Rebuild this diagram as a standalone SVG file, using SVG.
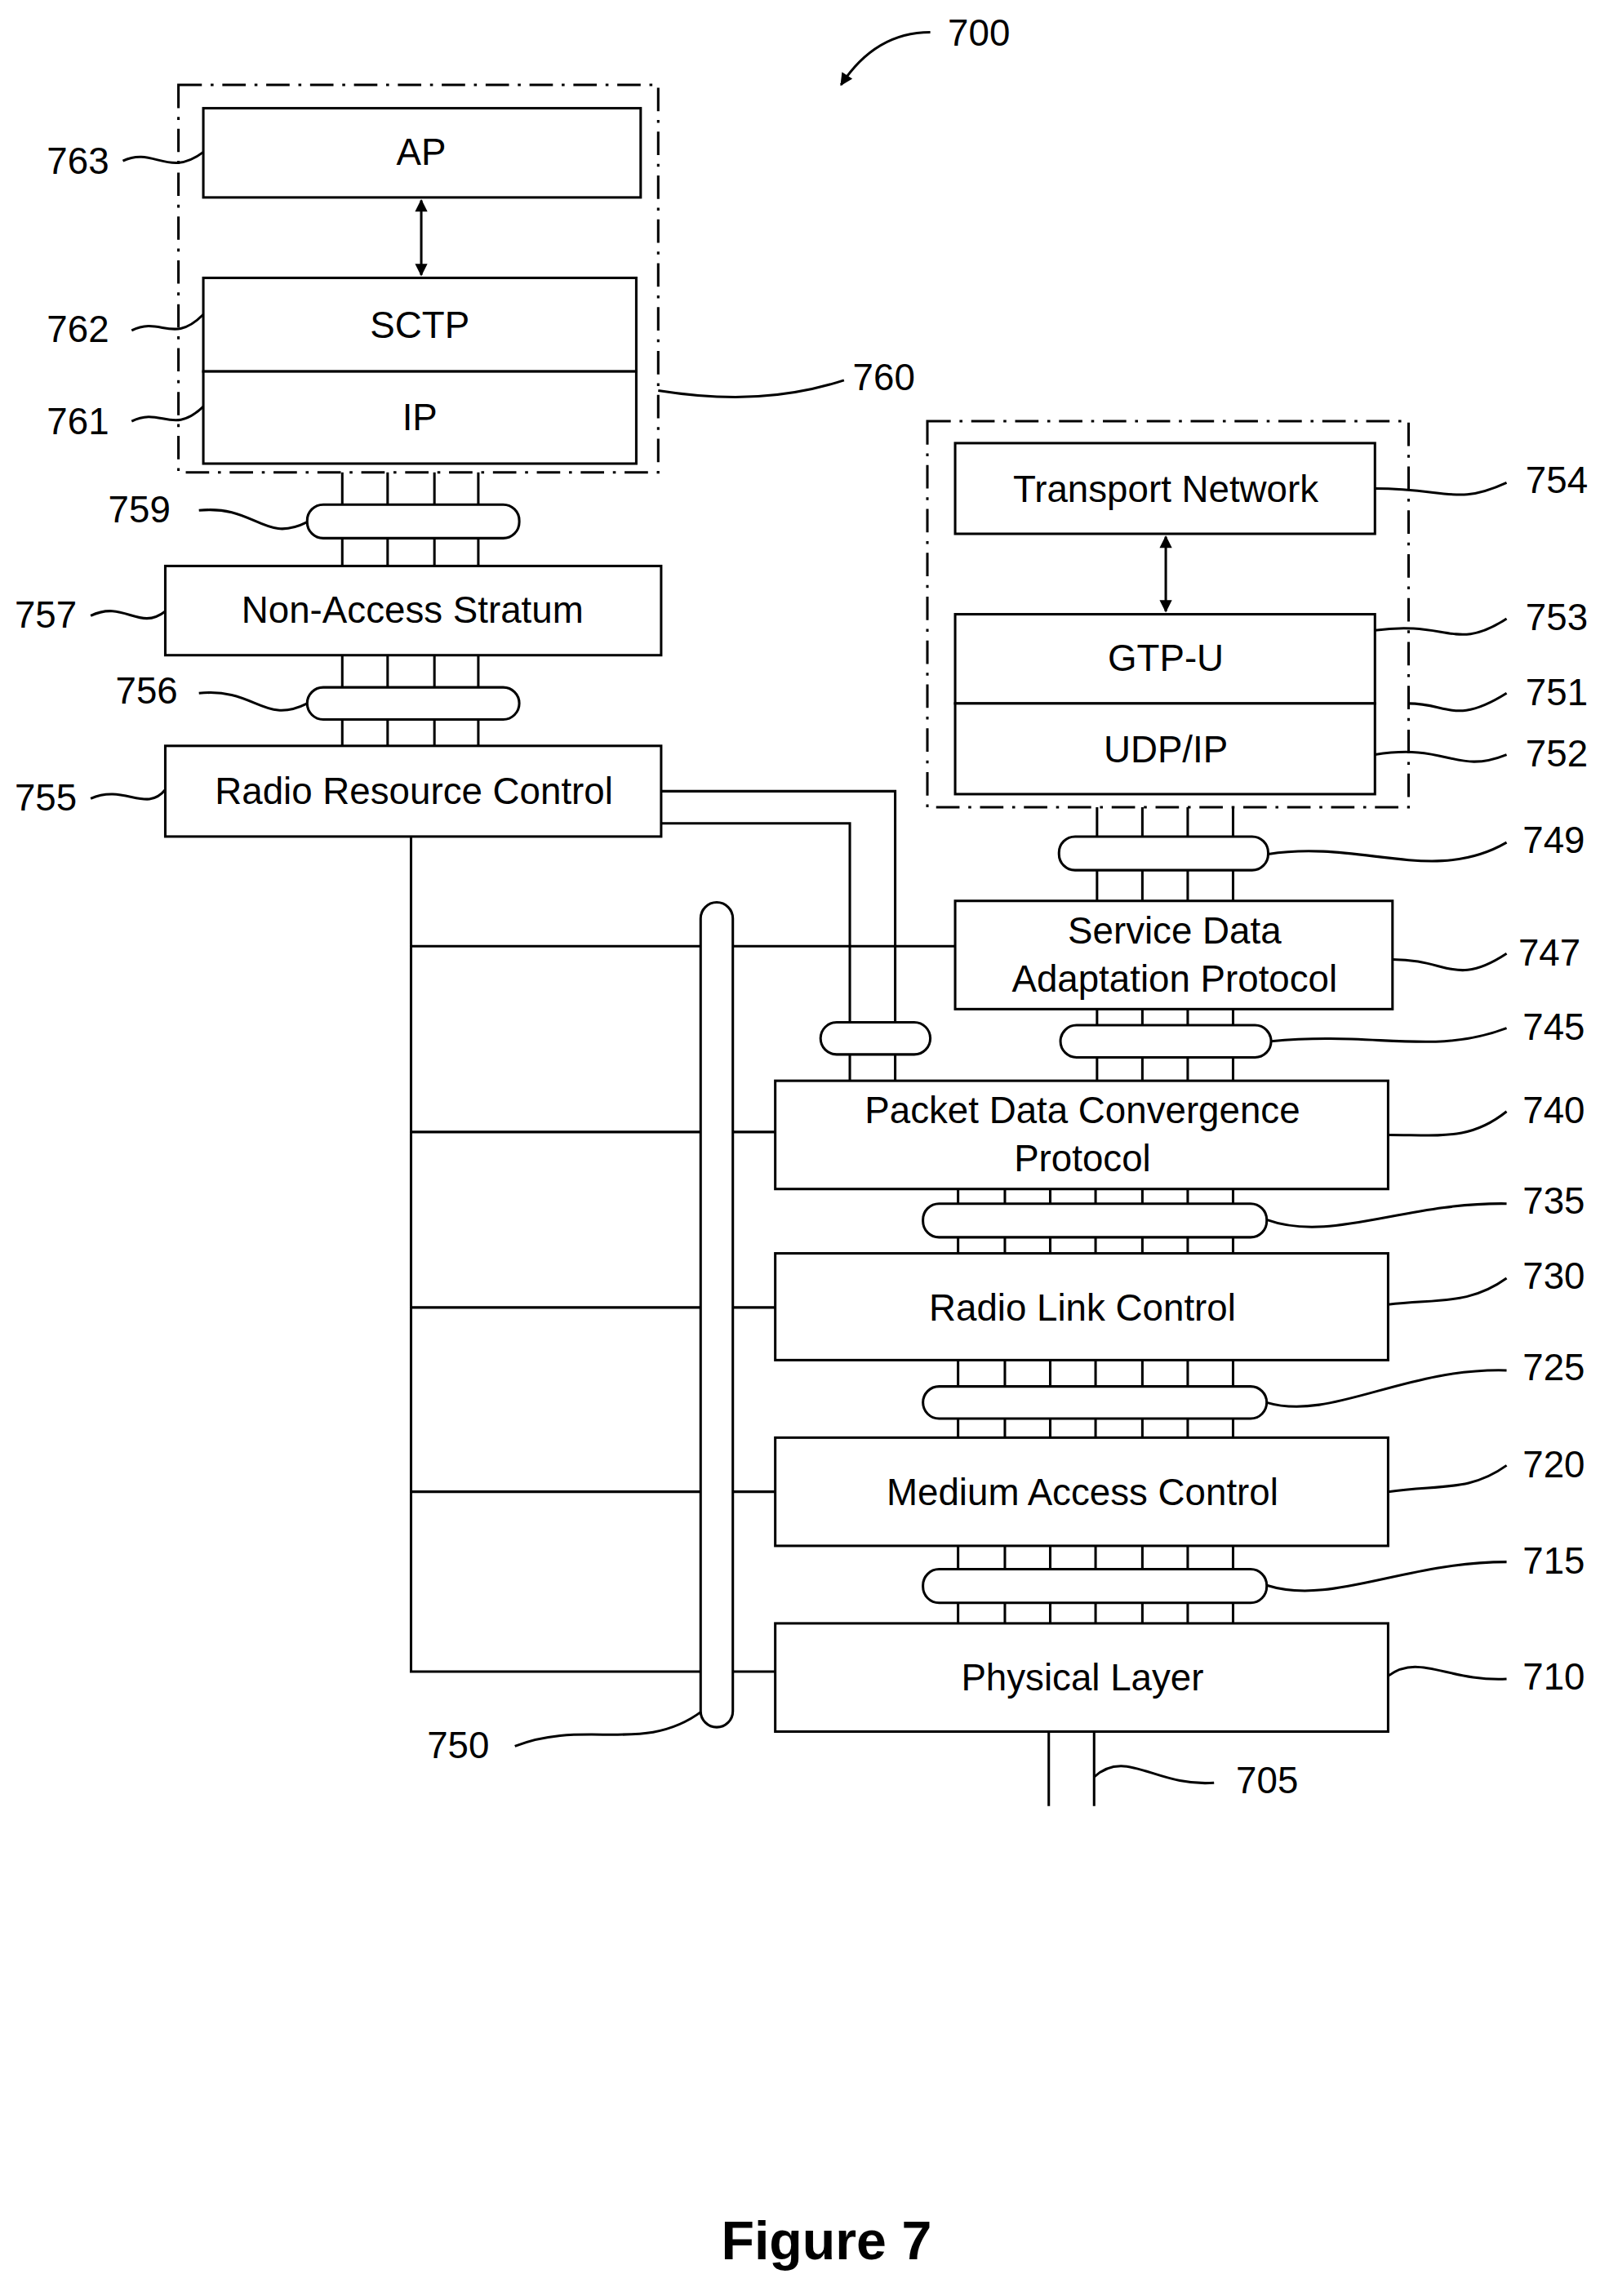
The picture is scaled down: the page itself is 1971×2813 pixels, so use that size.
<svg xmlns="http://www.w3.org/2000/svg" width="1971" height="2813" viewBox="0 0 1971 2813">
<defs>
<style>
.b{fill:#fff;stroke:#000;stroke-width:1.7}
.l{fill:none;stroke:#000;stroke-width:1.7}
.d{fill:none;stroke:#000;stroke-width:1.7;stroke-dasharray:16 6 2 6}
.o{fill:#fff;stroke:#000;stroke-width:1.7}
.t{font-family:"Liberation Sans",Arial,sans-serif;font-size:25.5px;text-anchor:middle;fill:#000}
.n{font-family:"Liberation Sans",Arial,sans-serif;font-size:25.5px;fill:#000}
</style>
<marker id="ah" viewBox="0 0 10 10" refX="9" refY="5" markerWidth="6.5" markerHeight="5" orient="auto-start-reverse"><path d="M0,0 L10,5 L0,10 z" fill="#000"/></marker>
</defs>
<rect width="1971" height="2813" fill="#fff"/>
<g transform="scale(1.7918)">
<g id="connectors">
<path class="l" d="M636,22 C610,22 590,35 575,58" marker-end="url(#ah)"/>
<line class="l" x1="288" y1="137" x2="288" y2="188" marker-start="url(#ah)" marker-end="url(#ah)"/>
<line class="l" x1="797" y1="367" x2="797" y2="418" marker-start="url(#ah)" marker-end="url(#ah)"/>
<path class="l" d="M234,323V387M265,323V387M297,323V387M327,323V387"/>
<path class="l" d="M234,448V510M265,448V510M297,448V510M327,448V510"/>
<path class="l" d="M750,552V616M781,552V616M812,552V616M843,552V616"/>
<path class="l" d="M750,690V739M781,690V739M812,690V739M843,690V739"/>
<path class="l" d="M655,813V857M687,813V857M718,813V857M749,813V857M781,813V857M812,813V857M843,813V857"/>
<path class="l" d="M655,930V983M687,930V983M718,930V983M749,930V983M781,930V983M812,930V983M843,930V983"/>
<path class="l" d="M655,1057V1110M687,1057V1110M718,1057V1110M749,1057V1110M781,1057V1110M812,1057V1110M843,1057V1110"/>
<path class="l" d="M452,541H612V739M452,563H581V739"/>
<path class="l" d="M281,572V1143H530M281,647H653M281,774H530M281,894H530M281,1020H530"/>
<path class="l" d="M717,1184V1235M748,1184V1235"/>
<path class="l" d="M84,110 C105,100 115,122 139,104"/>
<path class="l" d="M90,226 C110,216 118,236 139,215"/>
<path class="l" d="M90,288 C110,278 118,298 139,278"/>
<path class="l" d="M450,267 C500,275 540,272 577,260"/>
<path class="l" d="M136,349 C175,345 180,372 210,357"/>
<path class="l" d="M62,421 C85,410 95,432 113,418"/>
<path class="l" d="M136,474 C175,470 180,496 210,481"/>
<path class="l" d="M62,546 C85,536 100,556 113,540"/>
<path class="l" d="M940,334 C990,334 995,346 1030,330"/>
<path class="l" d="M940,431 C990,424 995,446 1030,423"/>
<path class="l" d="M963,481 C990,481 995,496 1030,474"/>
<path class="l" d="M940,516 C990,508 995,530 1030,516"/>
<path class="l" d="M867,584 C930,574 980,605 1030,576"/>
<path class="l" d="M952,656 C990,656 995,675 1030,652"/>
<path class="l" d="M869,712 C940,705 980,722 1030,703"/>
<path class="l" d="M949,776 C985,776 1005,780 1030,760"/>
<path class="l" d="M866,834 C910,850 960,822 1030,823"/>
<path class="l" d="M949,892 C985,888 1005,892 1030,874"/>
<path class="l" d="M866,959 C910,972 960,935 1030,937"/>
<path class="l" d="M949,1020 C985,1015 1005,1020 1030,1002"/>
<path class="l" d="M866,1084 C910,1098 960,1068 1030,1068"/>
<path class="l" d="M949,1146 C970,1130 990,1150 1030,1148"/>
<path class="l" d="M748,1215 C770,1195 790,1222 830,1219"/>
<path class="l" d="M352,1194 C400,1175 440,1200 480,1170"/>
</g>
<g id="n760"><rect class="d" x="122" y="58" width="328" height="265"/></g>
<g id="n751"><rect class="d" x="634" y="288" width="329" height="264"/></g>
<g id="n763"><rect class="b" x="139" y="74" width="299" height="61"/><text class="t" x="288" y="113">AP</text></g>
<g id="n762"><rect class="b" x="139" y="190" width="296" height="64"/><text class="t" x="287" y="231">SCTP</text></g>
<g id="n761"><rect class="b" x="139" y="254" width="296" height="63"/><text class="t" x="287" y="294">IP</text></g>
<g id="n754"><rect class="b" x="653" y="303" width="287" height="62"/><text class="t" x="797" y="343">Transport Network</text></g>
<g id="n753"><rect class="b" x="653" y="420" width="287" height="61"/><text class="t" x="797" y="459">GTP-U</text></g>
<g id="n752"><rect class="b" x="653" y="481" width="287" height="62"/><text class="t" x="797" y="521">UDP/IP</text></g>
<g id="n759"><rect class="o" x="210" y="345" width="145" height="23" rx="11"/></g>
<g id="n757"><rect class="b" x="113" y="387" width="339" height="61"/><text class="t" x="282" y="426">Non-Access Stratum</text></g>
<g id="n756"><rect class="o" x="210" y="470" width="145" height="22" rx="11"/></g>
<g id="n755"><rect class="b" x="113" y="510" width="339" height="62"/><text class="t" x="283" y="550">Radio Resource Control</text></g>
<g id="n749"><rect class="o" x="724" y="572" width="143" height="23" rx="11"/></g>
<g id="n747"><rect class="b" x="653" y="616" width="299" height="74"/><text class="t" x="803" y="645">Service Data</text><text class="t" x="803" y="678">Adaptation Protocol</text></g>
<g id="n745"><rect class="o" x="725" y="701" width="144" height="22" rx="11"/></g>
<g id="nrrc-oval"><rect class="o" x="561" y="699" width="75" height="22" rx="11"/></g>
<g id="n740"><rect class="b" x="530" y="739" width="419" height="74"/><text class="t" x="740" y="768">Packet Data Convergence</text><text class="t" x="740" y="801">Protocol</text></g>
<g id="n735"><rect class="o" x="631" y="823" width="235" height="23" rx="11"/></g>
<g id="n730"><rect class="b" x="530" y="857" width="419" height="73"/><text class="t" x="740" y="903">Radio Link Control</text></g>
<g id="n725"><rect class="o" x="631" y="948" width="235" height="22" rx="11"/></g>
<g id="n720"><rect class="b" x="530" y="983" width="419" height="74"/><text class="t" x="740" y="1029">Medium Access Control</text></g>
<g id="n715"><rect class="o" x="631" y="1073" width="235" height="23" rx="11"/></g>
<g id="n710"><rect class="b" x="530" y="1110" width="419" height="74"/><text class="t" x="740" y="1156">Physical Layer</text></g>
<g id="n750"><rect class="o" x="479" y="617" width="22" height="564" rx="11"/></g>
<g id="labels">
<text class="n" x="648" y="31">700</text>
<text class="n" x="32" y="119">763</text>
<text class="n" x="32" y="234">762</text>
<text class="n" x="32" y="297">761</text>
<text class="n" x="583" y="267">760</text>
<text class="n" x="74" y="357">759</text>
<text class="n" x="10" y="429">757</text>
<text class="n" x="79" y="481">756</text>
<text class="n" x="10" y="554">755</text>
<text class="n" x="1043" y="337">754</text>
<text class="n" x="1043" y="431">753</text>
<text class="n" x="1043" y="482">751</text>
<text class="n" x="1043" y="524">752</text>
<text class="n" x="1041" y="583">749</text>
<text class="n" x="1038" y="660">747</text>
<text class="n" x="1041" y="711">745</text>
<text class="n" x="1041" y="768">740</text>
<text class="n" x="1041" y="830">735</text>
<text class="n" x="1041" y="881">730</text>
<text class="n" x="1041" y="944">725</text>
<text class="n" x="1041" y="1010">720</text>
<text class="n" x="1041" y="1076">715</text>
<text class="n" x="1041" y="1155">710</text>
<text class="n" x="845" y="1226">705</text>
<text class="n" x="292" y="1202">750</text>
<text x="565" y="1545" style="font-family:'Liberation Sans',Arial,sans-serif;font-size:37px;font-weight:bold;text-anchor:middle">Figure 7</text>
</g>
</g>
</svg>
